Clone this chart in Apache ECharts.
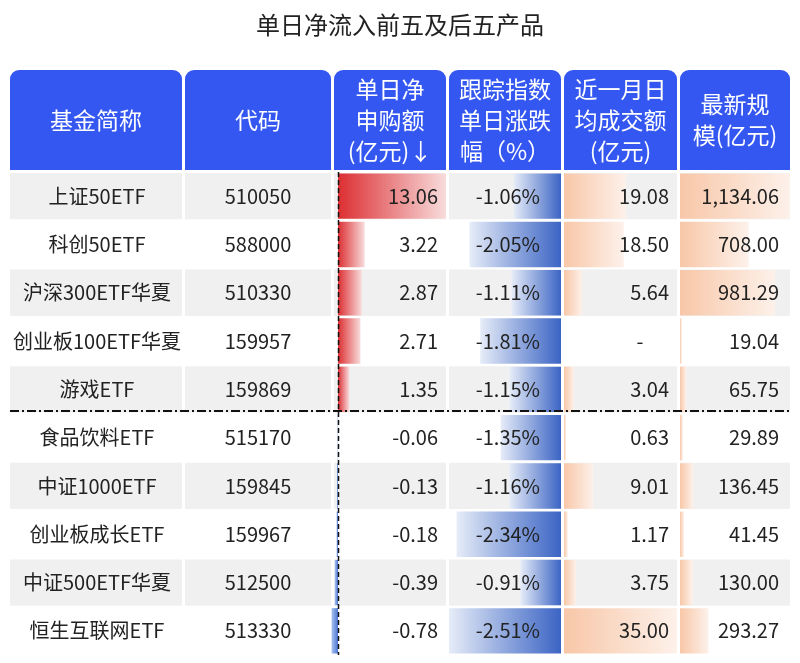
<!DOCTYPE html>
<html><head><meta charset="utf-8">
<script src="https://cdn.jsdelivr.net/npm/echarts@6/dist/echarts.min.js"></script>
<style>html,body{margin:0;padding:0;background:#fff}#c{width:800px;height:663px}</style>
</head><body><div id="c"></div>
<script>
const title = '单日净流入前五及后五产品';
const headers = ['基金简称','代码','单日净\n申购额\n(亿元)↓','跟踪指数\n单日涨跌\n幅（%）','近一月日\n均成交额\n(亿元)','最新规\n模(亿元)'];
const names = ['上证50ETF','科创50ETF','沪深300ETF华夏','创业板100ETF华夏','游戏ETF','食品饮料ETF','中证1000ETF','创业板成长ETF','中证500ETF华夏','恒生互联网ETF'];
const codes = ['510050','588000','510330','159957','159869','515170','159845','159967','512500','513330'];
const netBuy = [13.06,3.22,2.87,2.71,1.35,-0.06,-0.13,-0.18,-0.39,-0.78];
const idxChg = [-1.06,-2.05,-1.11,-1.81,-1.15,-1.35,-1.16,-2.34,-0.91,-2.51];
const turnover = [19.08,18.50,5.64,null,3.04,0.63,9.01,1.17,3.75,35.00];
const scale = [1134.06,708.00,981.29,19.04,65.75,29.89,136.45,41.45,130.00,293.27];

const cols = [[10,182],[185,331],[334,446],[449,561],[564,677],[680,790]];
const TOP=172, BOT=8, FONT='"Noto Sans CJK SC","Noto Sans",sans-serif';
const rows = names.map((_,i)=>i);
const fmt = v => v==null ? '-' : v.toLocaleString('en-US',{minimumFractionDigits:2,maximumFractionDigits:2});

function barGrid(i){ return {left:cols[i][0], width:cols[i][1]-cols[i][0], top:TOP, bottom:BOT}; }
const grids=[{left:0,width:800,top:TOP,bottom:BOT}, barGrid(2), barGrid(3), barGrid(4), barGrid(5)];
grids[1] = {left:331, width:115, top:TOP, bottom:BOT};
const xAxes=[
 {gridIndex:0,type:'value',min:0,max:800,show:false},
 {gridIndex:1,type:'value',min:-0.85,max:13.06,show:false},
 {gridIndex:2,type:'value',min:0,max:2.51,inverse:true,show:false},
 {gridIndex:3,type:'value',min:0,max:35,show:false},
 {gridIndex:4,type:'value',min:0,max:1134.06,show:false}];
const yAxes=[0,1,2,3,4].map(g=>({gridIndex:g,type:'category',data:names,inverse:true,show:false}));
const lg=(c0,c1)=>new echarts.graphic.LinearGradient(0,0,1,0,[{offset:0,color:c0},{offset:1,color:c1}]);

const option={
 animation:false,
 title:{text:title,left:'center',top:8,textStyle:{fontFamily:FONT,fontSize:24,fontWeight:'normal',color:'#222'}},
 grid:grids, xAxis:xAxes, yAxis:yAxes,
 graphic: headers.map((h,i)=>({type:'group',children:[
   {type:'rect',shape:{x:cols[i][0],y:70,width:cols[i][1]-cols[i][0],height:100,r:[9,9,0,0]},style:{fill:'#3457f2'}},
   {type:'text',x:(cols[i][0]+cols[i][1])/2,y:120,style:{text:h,fill:'#fff',font:'23px '+FONT,align:'center',verticalAlign:'middle',lineHeight:31}}
 ]})).concat([
   {type:'line',z:50,shape:{x1:10,y1:411,x2:790,y2:411},style:{stroke:'#111',lineWidth:2,lineDash:[9,3,2,3]}},
   {type:'line',z:50,shape:{x1:338.5,y1:TOP,x2:338.5,y2:655},style:{stroke:'#111',lineWidth:1.5,lineDash:[5,3]}}
 ]),
 series:[
  {type:'custom',xAxisIndex:0,yAxisIndex:0,z:1,data:rows,renderItem:(p,api)=>{
    const r=api.value(0); const c=api.coord([0,r]); const h=api.size([0,1])[1];
    const fill = r%2===0 ? '#f0f0f0' : '#ffffff';
    return {type:'group',children:cols.map(cc=>({type:'rect',shape:{x:cc[0],y:c[1]-h/2+1,width:cc[1]-cc[0],height:h-2},style:{fill}}))};
  }},
  {type:'bar',xAxisIndex:1,yAxisIndex:1,z:2,barWidth:'94%',data:netBuy.map(v=>({value:v,itemStyle:{color:v>=0?lg('#dc2f33','#f8dcdc'):lg('#a9c0ee','#4a78d4')}}))},
  {type:'bar',xAxisIndex:2,yAxisIndex:2,z:2,barWidth:'94%',data:idxChg.map(v=>Math.abs(v)),itemStyle:{color:lg('#e6ecf8','#3b64c4')}},
  {type:'bar',xAxisIndex:3,yAxisIndex:3,z:2,barWidth:'94%',data:turnover,itemStyle:{color:lg('#f8c7a8','#fdf1ea')}},
  {type:'bar',xAxisIndex:4,yAxisIndex:4,z:2,barWidth:'94%',data:scale,itemStyle:{color:lg('#f8c7a8','#fdf1ea')}},
  {type:'custom',xAxisIndex:0,yAxisIndex:0,z:10,data:rows,renderItem:(p,api)=>{
    const r=api.value(0); const y=api.coord([0,r])[1];
    const t=(x,s,a)=>({type:'text',x,y,style:{text:s,fill:'#222',font:'20px '+FONT,align:a,verticalAlign:'middle'}});
    return {type:'group',children:[
      t(97,names[r],'center'), t(258,codes[r],'center'), t(438,netBuy[r].toFixed(2),'right'),
      t(540,idxChg[r].toFixed(2)+'%','right'),
      turnover[r]==null ? t(640,'-','center') : t(669,fmt(turnover[r]),'right'),
      t(779,fmt(scale[r]),'right')]};
  }}
 ]
};
echarts.init(document.getElementById('c')).setOption(option);
</script></body></html>
